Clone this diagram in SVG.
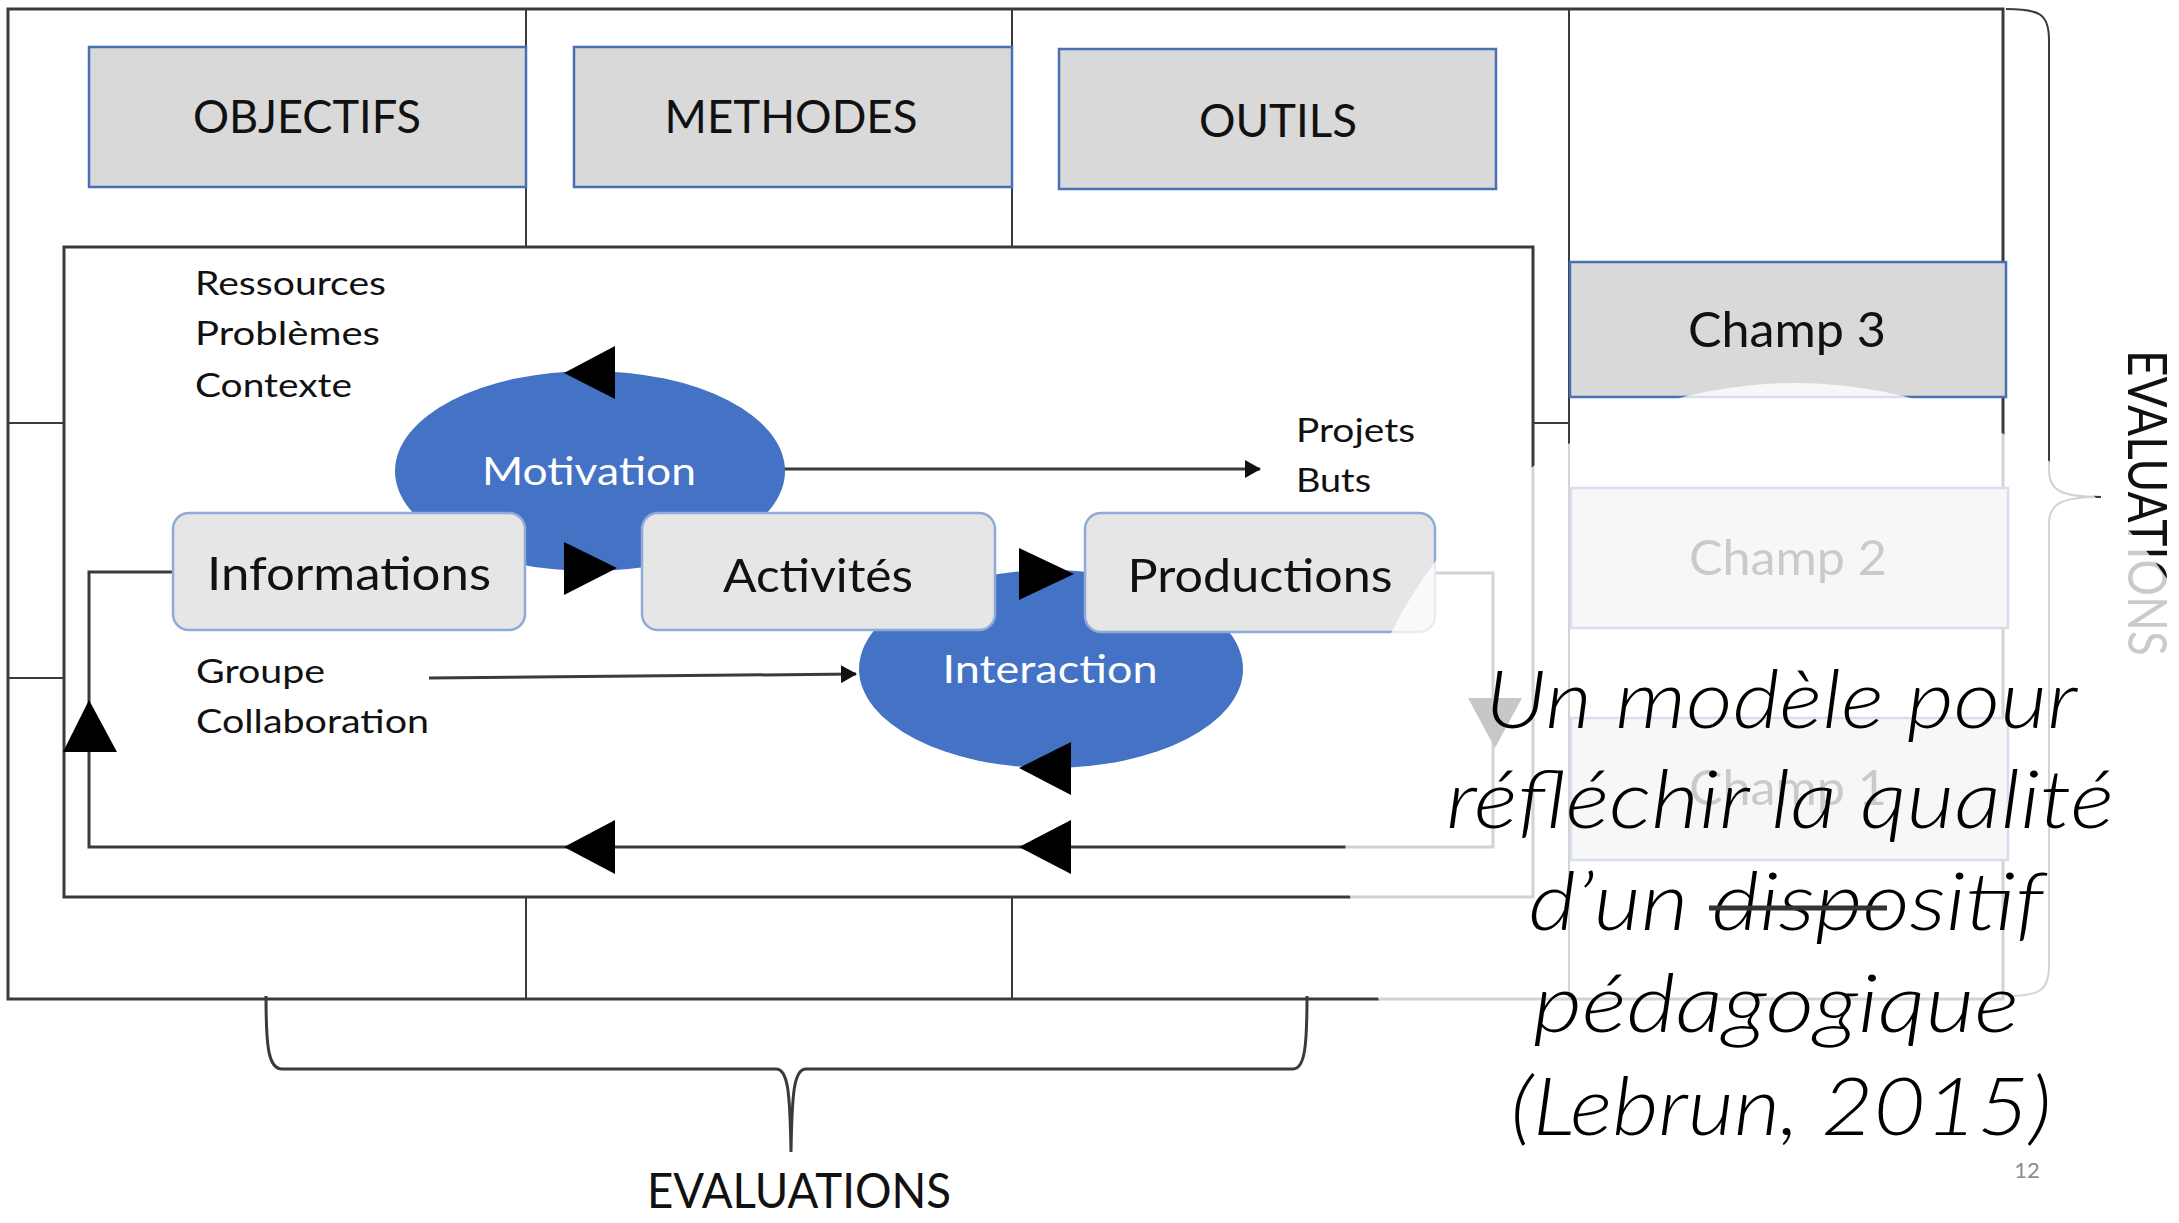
<svg xmlns="http://www.w3.org/2000/svg" width="2179" height="1223" viewBox="0 0 2179 1223">
<defs>
<style>
.ln{stroke:#3a3a3a;stroke-width:3;fill:none}
.thin{stroke:#3a3a3a;stroke-width:2;fill:none}
.hd{fill:#d9d9d9;stroke:#4a6fb5;stroke-width:2.5}
.pb{fill:#e6e6e6;stroke:#8eaadb;stroke-width:2.5}
.el{fill:#4472c4}
.tri{fill:#000}
.t{font-family:Lato,"Open Sans","Liberation Sans",sans-serif;fill:#111}
.w{fill:#fff}
.title{font-family:Lato,"Open Sans","Liberation Sans",sans-serif;font-style:italic;font-weight:300;font-size:80px;fill:#000}
</style>
<marker id="ah" markerUnits="userSpaceOnUse" markerWidth="16" markerHeight="18" viewBox="0 0 16 18" refX="15" refY="9" orient="auto">
<path d="M0,0 L16,9 L0,18 z" fill="#111"/>
</marker>
</defs>
<rect width="2179" height="1223" fill="#fff"/>

<g id="frame">
<rect x="8" y="9" width="1995" height="990" class="ln"/>
<line x1="526" y1="9" x2="526" y2="247" class="thin"/>
<line x1="1012" y1="9" x2="1012" y2="247" class="thin"/>
<line x1="526" y1="897" x2="526" y2="999" class="thin"/>
<line x1="1012" y1="897" x2="1012" y2="999" class="thin"/>
<line x1="1569" y1="9" x2="1569" y2="999" class="thin"/>
<line x1="8" y1="423" x2="64" y2="423" class="thin"/>
<line x1="8" y1="678" x2="64" y2="678" class="thin"/>
<line x1="1533" y1="423" x2="1569" y2="423" class="thin"/>
</g>

<g id="objectifs">
<rect x="89" y="47" width="437" height="140" class="hd"/>
<text x="307" y="133" class="t" font-size="46" text-anchor="middle" textLength="228" lengthAdjust="spacingAndGlyphs">OBJECTIFS</text>
</g>
<g id="methodes">
<rect x="574" y="47" width="438" height="140" class="hd"/>
<text x="791" y="133" class="t" font-size="46" text-anchor="middle" textLength="253" lengthAdjust="spacingAndGlyphs">METHODES</text>
</g>
<g id="outils">
<rect x="1059" y="49" width="437" height="140" class="hd"/>
<text x="1278" y="137" class="t" font-size="46" text-anchor="middle" textLength="158" lengthAdjust="spacingAndGlyphs">OUTILS</text>
</g>
<g id="champ3">
<rect x="1570" y="262" width="436" height="135" class="hd"/>
<text x="1787" y="347" class="t" font-size="48" text-anchor="middle" textLength="198" lengthAdjust="spacingAndGlyphs">Champ 3</text>
</g>
<g id="champ2">
<rect x="1571" y="488" width="437" height="140" class="hd"/>
<text x="1788" y="575" class="t" font-size="48" text-anchor="middle" textLength="198" lengthAdjust="spacingAndGlyphs">Champ 2</text>
</g>
<g id="champ1">
<rect x="1571" y="718" width="437" height="142" class="hd"/>
<text x="1788" y="805" class="t" font-size="48" text-anchor="middle" textLength="198" lengthAdjust="spacingAndGlyphs">Champ 1</text>
</g>

<g id="inner">
<rect x="64" y="247" width="1469" height="650" class="ln" fill="#fff"/>
</g>

<g id="braces">
<path d="M2006,9 C2040,9 2049,14 2049,40 V470 C2049,490 2060,497 2101,497 C2060,497 2049,504 2049,524 V966 C2049,990 2040,996 2008,996" class="thin"/>
<path d="M266,996 C266,1045 268,1069 282,1069 H776 C788,1069 790,1092 791,1152 C792,1092 794,1069 806,1069 H1293 C1305,1069 1307,1045 1307,996" class="ln"/>
</g>

<g id="connectors">
<path d="M1435,573 H1493 V847 H89 V572 H173" class="ln"/>
<line x1="784" y1="469" x2="1260" y2="469" class="ln" marker-end="url(#ah)"/>
<line x1="429" y1="678" x2="856" y2="674" class="ln" marker-end="url(#ah)"/>
<polygon points="1468,698 1522,698 1495,748" class="tri"/>
<polygon points="89,700 63,752 117,752" class="tri"/>
<polygon points="564,847 615,820 615,874" class="tri"/>
<polygon points="1019,847 1071,820 1071,874" class="tri"/>
</g>

<g id="motivation">
<ellipse cx="590" cy="471" rx="195" ry="100" class="el"/>
<text x="589" y="485" class="t w" font-size="39" text-anchor="middle" textLength="214" lengthAdjust="spacingAndGlyphs">Motivation</text>
</g>
<g id="interaction">
<ellipse cx="1051" cy="669" rx="192" ry="99" class="el"/>
<text x="1050" y="683" class="t w" font-size="39" text-anchor="middle" textLength="215" lengthAdjust="spacingAndGlyphs">Interaction</text>
</g>
<g id="informations">
<rect x="173" y="513" width="352" height="117" rx="16" class="pb"/>
<text x="349" y="590" class="t" font-size="47" text-anchor="middle" textLength="284" lengthAdjust="spacingAndGlyphs">Informations</text>
</g>
<g id="activites">
<rect x="642" y="513" width="353" height="117" rx="16" class="pb"/>
<text x="818" y="592" class="t" font-size="47" text-anchor="middle" textLength="190" lengthAdjust="spacingAndGlyphs">Activités</text>
</g>
<g id="productions">
<rect x="1085" y="513" width="350" height="119" rx="16" class="pb"/>
<text x="1260" y="592" class="t" font-size="47" text-anchor="middle" textLength="265" lengthAdjust="spacingAndGlyphs">Productions</text>
</g>

<g id="arrowheads">
<polygon points="564,373 615,346 615,399" class="tri"/>
<polygon points="617,568 564,542 564,595" class="tri"/>
<polygon points="1074,574 1019,548 1019,600" class="tri"/>
<polygon points="1019,768 1071,742 1071,795" class="tri"/>
</g>

<g id="labels">
<text x="195" y="295" class="t" font-size="32" textLength="191" lengthAdjust="spacingAndGlyphs">Ressources</text>
<text x="195" y="345" class="t" font-size="32" textLength="185" lengthAdjust="spacingAndGlyphs">Problèmes</text>
<text x="195" y="397" class="t" font-size="32" textLength="157" lengthAdjust="spacingAndGlyphs">Contexte</text>
<text x="1296" y="442" class="t" font-size="32" textLength="119" lengthAdjust="spacingAndGlyphs">Projets</text>
<text x="1296" y="492" class="t" font-size="32" textLength="75" lengthAdjust="spacingAndGlyphs">Buts</text>
<text x="196" y="683" class="t" font-size="33" textLength="129" lengthAdjust="spacingAndGlyphs">Groupe</text>
<text x="196" y="733" class="t" font-size="33" textLength="233" lengthAdjust="spacingAndGlyphs">Collaboration</text>
<text x="799" y="1208" class="t" font-size="49" text-anchor="middle" textLength="304" lengthAdjust="spacingAndGlyphs">EVALUATIONS</text>
<text transform="translate(2128,350) rotate(90)" class="t" font-size="54" textLength="306" lengthAdjust="spacingAndGlyphs">EVALUATIONS</text>
</g>

<ellipse id="fade" cx="1795" cy="830" rx="450" ry="447" fill="#fff" fill-opacity="0.78"/>

<g id="title">
<text x="1781" y="728" class="title" text-anchor="middle" textLength="592" lengthAdjust="spacingAndGlyphs">Un modèle pour</text>
<text x="1780" y="828" class="title" text-anchor="middle" textLength="668" lengthAdjust="spacingAndGlyphs">réfléchir la qualité</text>
<text x="1786" y="930" class="title" text-anchor="middle" textLength="515" lengthAdjust="spacingAndGlyphs">d’un dispositif</text>
<text x="1776" y="1032" class="title" text-anchor="middle" textLength="486" lengthAdjust="spacingAndGlyphs">pédagogique</text>
<text x="1781" y="1135" class="title" text-anchor="middle" textLength="541" lengthAdjust="spacingAndGlyphs">(Lebrun, 2015)</text>
<line x1="1709" y1="908" x2="1887" y2="908" stroke="#333" stroke-width="5"/>
</g>
<text x="2027" y="1178" font-family="Lato,'Open Sans',sans-serif" font-size="22" fill="#8c8c8c" text-anchor="middle">12</text>
</svg>
